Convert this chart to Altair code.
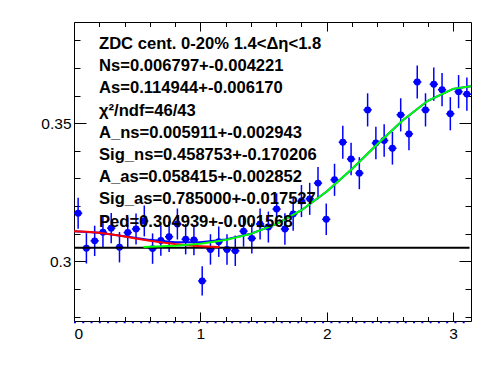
import altair as alt
import pandas as pd

# ---- data ----
bin_centers = [0.0327, 0.0982, 0.1636, 0.2291, 0.2945, 0.3600, 0.4254, 0.4909,
               0.5563, 0.6218, 0.6872, 0.7527, 0.8181, 0.8836, 0.9490, 1.0145,
               1.0799, 1.1454, 1.2108, 1.2763, 1.3417, 1.4072, 1.4726, 1.5381,
               1.6035, 1.6690, 1.7344, 1.7999, 1.8653, 1.9308, 1.9962, 2.0617,
               2.1271, 2.1926, 2.2580, 2.3235, 2.3889, 2.4544, 2.5198, 2.5853,
               2.6507, 2.7162, 2.7816, 2.8471, 2.9125, 2.9780, 3.0434, 3.1089]
bin_half = 0.0327
values = [0.3174, 0.3047, 0.3074, 0.3105, 0.3120, 0.3051, 0.3104, 0.3117,
          0.3146, 0.3046, 0.3075, 0.3089, 0.3135, 0.3080, 0.3077, 0.2929,
          0.3043, 0.3071, 0.3043, 0.3038, 0.3109, 0.3083, 0.3135, 0.3124,
          0.3189, 0.3117, 0.3171, 0.3218, 0.3226, 0.3283, 0.3152, 0.3295,
          0.3431, 0.3370, 0.3319, 0.3548, 0.3428, 0.3437, 0.3409, 0.3530,
          0.3461, 0.3649, 0.3548, 0.3641, 0.3621, 0.3534, 0.3614, 0.3605]
errors = [0.0056, 0.0055, 0.0055, 0.0055, 0.0055, 0.0055, 0.0055, 0.0056,
          0.0056, 0.0055, 0.0055, 0.0055, 0.0056, 0.0055, 0.0055, 0.0053,
          0.0055, 0.0055, 0.0055, 0.0055, 0.0056, 0.0055, 0.0056, 0.0056,
          0.0057, 0.0057, 0.0060, 0.0058, 0.0058, 0.0058, 0.0057, 0.0058,
          0.0060, 0.0059, 0.0058, 0.0060, 0.0059, 0.0059, 0.0059, 0.0060,
          0.0059, 0.0060, 0.0060, 0.0060, 0.0060, 0.0060, 0.0060, 0.0060]

# fitted curves (sampled)
red_x = [0.0, 0.1, 0.2, 0.3, 0.4, 0.5, 0.6, 0.7, 0.8, 0.9, 1.0, 1.1, 1.15]
red_y = [0.31085, 0.31071, 0.31031, 0.30971, 0.30898, 0.30820, 0.30745,
         0.30678, 0.30623, 0.30580, 0.30549, 0.30527, 0.30519]
green_x = [0.55, 0.8, 1.0, 1.2, 1.4, 1.6, 1.8, 2.0, 2.2, 2.4, 2.6, 2.8, 3.0, 3.1416]
green_y = [0.30519, 0.30562, 0.30635, 0.30768, 0.30992, 0.31343, 0.31850,
           0.32523, 0.33339, 0.34233, 0.35098, 0.35808, 0.36241, 0.36335]
total_x = [0.0, 0.2, 0.4, 0.6, 0.8, 1.0, 1.2, 1.4, 1.6, 1.8, 2.0, 2.2, 2.4,
           2.6, 2.8, 3.0, 3.1416]
total_y = [0.31087, 0.31037, 0.30911, 0.30776, 0.30691, 0.30690, 0.30787,
           0.30998, 0.31344, 0.31850, 0.32523, 0.33339, 0.34233, 0.35098,
           0.35808, 0.36241, 0.36335]
ped_x = [0.0, 3.13]
ped_y = [0.304939, 0.304939]

text_lines = [
    "ZDC cent. 0-20% 1.4<\u0394\u03b7<1.8",
    "Ns=0.006797+-0.004221",
    "As=0.114944+-0.006170",
    "\u03c7\u00b2/ndf=46/43",
    "A_ns=0.005911+-0.002943",
    "Sig_ns=0.458753+-0.170206",
    "A_as=0.058415+-0.002852",
    "Sig_as=0.785000+-0.017527",
    "Ped=0.304939+-0.001568",
]

x_labels = [0, 1, 2, 3]
x_ticks = [0.0, 0.2, 0.4, 0.6, 0.8, 1.0, 1.2, 1.4, 1.6, 1.8, 2.0, 2.2, 2.4,
           2.6, 2.8, 3.0]
y_labels = [0.3, 0.35]
y_ticks = [0.28, 0.29, 0.30, 0.31, 0.32, 0.33, 0.34, 0.35, 0.36, 0.37, 0.38]

X_DOMAIN = [0.0, 3.1416]
Y_DOMAIN = [0.2784, 0.3866]
W, H = 397, 299
FONT = "Liberation Sans"

# ---- tables ----
pts = pd.DataFrame({"x": bin_centers, "y": values, "e": errors})
pts["ylo"] = pts["y"] - pts["e"]
pts["yhi"] = pts["y"] + pts["e"]
pts["xlo"] = pts["x"] - bin_half
pts["xhi"] = pts["x"] + bin_half

red = pd.DataFrame({"x": red_x, "y": red_y})
green = pd.DataFrame({"x": green_x, "y": green_y})
total = pd.DataFrame({"x": total_x, "y": total_y})
ped = pd.DataFrame({"x": ped_x, "y": ped_y})
one = pd.DataFrame({"k": [0]})

xs = alt.Scale(domain=X_DOMAIN, nice=False, zero=False)
ys = alt.Scale(domain=Y_DOMAIN, nice=False, zero=False)


def tick_axis(orient, vals, offset, test, major, minor):
    return alt.Axis(orient=orient, values=vals, offset=offset, labels=False,
                    domain=False, grid=False, title=None, tickColor="black",
                    tickWidth=1,
                    tickSize={"condition": {"test": test, "value": major},
                              "value": minor})


x_major_test = "abs(datum.value - round(datum.value)) < 0.001"
y_major_test = "abs(datum.value * 20 - round(datum.value * 20)) < 0.001"

label_x_axis = alt.Axis(orient="bottom", values=x_labels, ticks=False,
                        domain=False, grid=False, title=None, format="d",
                        labelFont=FONT, labelFontSize=15.5, labelColor="black",
                        labelPadding=5)
label_y_axis = alt.Axis(orient="left", values=y_labels, ticks=False,
                        domain=False, grid=False, title=None, format=".2~f",
                        labelFont=FONT, labelFontSize=15.5, labelColor="black",
                        labelPadding=3)

# vertical error bars (carry the label axes)
err_v = alt.Chart(pts).mark_rule(color="#0000ff", strokeWidth=1.5).encode(
    x=alt.X("x:Q", scale=xs, axis=label_x_axis),
    y=alt.Y("ylo:Q", scale=ys, axis=label_y_axis),
    y2="yhi:Q",
)
# horizontal bin-width bars
err_h = alt.Chart(pts).mark_rule(color="#0000ff", strokeWidth=1.5).encode(
    x=alt.X("xlo:Q", scale=xs, axis=None),
    x2="xhi:Q",
    y=alt.Y("y:Q", scale=ys, axis=None),
)
# markers (carry inward ticks at left and bottom)
markers = alt.Chart(pts).mark_point(filled=True, shape="circle", size=48,
                                    color="#0000ff", opacity=1).encode(
    x=alt.X("x:Q", scale=xs,
            axis=tick_axis("top", x_ticks, -H, x_major_test, 9, 4.5)),
    y=alt.Y("y:Q", scale=ys,
            axis=tick_axis("right", y_ticks, -W, y_major_test, 12, 6)),
)
# pedestal line (carries inward ticks at right and top)
ped_line = alt.Chart(ped).mark_line(color="black", strokeWidth=2).encode(
    x=alt.X("x:Q", scale=xs,
            axis=tick_axis("bottom", x_ticks, -H, x_major_test, 9, 4.5)),
    y=alt.Y("y:Q", scale=ys,
            axis=tick_axis("left", y_ticks, -W, y_major_test, 12, 6)),
)
total_line = alt.Chart(total).mark_line(color="#0000ff", strokeWidth=2).encode(
    x=alt.X("x:Q", scale=xs, axis=None),
    y=alt.Y("y:Q", scale=ys, axis=None),
)
red_line = alt.Chart(red).mark_line(color="#ff0000", strokeWidth=2).encode(
    x=alt.X("x:Q", scale=xs, axis=None),
    y=alt.Y("y:Q", scale=ys, axis=None),
)
green_line = alt.Chart(green).mark_line(color="#00ff00", strokeWidth=2).encode(
    x=alt.X("x:Q", scale=xs, axis=None),
    y=alt.Y("y:Q", scale=ys, axis=None),
)
bottom_dots = alt.Chart(one).mark_rule(color="#0000ff", strokeWidth=1.5,
                                       strokeDash=[2, 6.27], clip=False).encode(
    x=alt.value(0), x2=alt.value(W), y=alt.value(H + 1.5),
)
label_text = alt.Chart(one).mark_text(
    text=text_lines, align="left", baseline="alphabetic", font=FONT,
    fontWeight="bold", fontSize=16.6, lineHeight=22.2, color="black",
).encode(x=alt.value(25), y=alt.value(27))

chart = alt.layer(
    err_v, err_h, markers, ped_line, total_line, red_line, green_line,
    bottom_dots, label_text,
).resolve_axis(x="independent", y="independent").properties(
    width=W, height=H,
    autosize=alt.AutoSizeParams(type="none"),
    padding={"left": 66, "top": 14, "right": 17, "bottom": 45},
    background="white",
).configure_view(stroke="black", strokeWidth=1)

chart.save("out.html", embed_options={"renderer": "svg", "actions": False})
